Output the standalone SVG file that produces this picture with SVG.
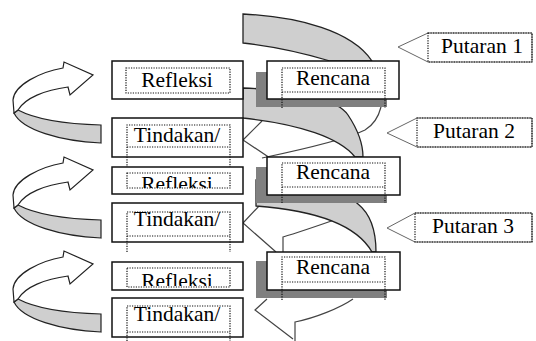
<svg xmlns="http://www.w3.org/2000/svg" width="536" height="341" viewBox="0 0 536 341">
<defs>
<style>
.box{fill:#fff;stroke:#111;stroke-width:1.5}
.shadow{fill:#808080}
.dot{fill:none;stroke:#111;stroke-width:1.2;stroke-dasharray:1.2 1.3}
.t{font-family:"Liberation Serif","Times New Roman",serif;font-size:21.5px;fill:#000;text-anchor:middle}
.band{fill:#cfcfcf;stroke:#222;stroke-width:1.3}
.ln{fill:none;stroke:#444;stroke-width:1.2}
.arrw{fill:#fff;stroke:#222;stroke-width:1.2}
.arrg{fill:#cfcfcf;stroke:#222;stroke-width:1.2}
.call{fill:#fff;stroke:#666;stroke-width:1}
</style>
<clipPath id="c2"><rect x="127" y="170" width="103" height="18"/></clipPath>
<clipPath id="c3"><rect x="127" y="265" width="103" height="21"/></clipPath>
<g id="uarrow">
<path class="arrg" d="M18,110 C35,119 65,124 101,125 L101,143 C60,141 22,130 14,113 Z"/>
<path class="arrw" d="M14,113 L13,100 C14,85 40,72 63,68 L64,62 L93,75 L70,95 L68,87 C45,90 25,98 18,110 Z"/>
</g>
</defs>
<rect width="536" height="341" fill="#fff"/>

<g id="connectors">
<path class="band" d="M243,14 C300,17 352,31 372,61 L330,61 C300,52 270,46 243,43 Z"/>
<path class="ln" d="M262,158 C300,150 345,140 365,130 C375,124 379,115 381,107"/>
<path class="ln" d="M262,121 L243,140 L270,158"/>
<path class="band" d="M243,88 C300,90 338,100 348,115 C358,130 363,145 363,157 L355,157 C340,138 300,124 243,118 Z"/>
<path class="ln" d="M283,252 L283,237 C300,232 320,225 340,218"/>
<path class="ln" d="M260,205 L243,223 L276,252"/>
<path class="band" d="M256,180 C320,185 350,195 358,204 C368,212 376,225 376,252 L372,252 C355,222 310,210 256,206 Z"/>
<path class="ln" d="M295,341 L295,322 C315,318 340,308 353,299"/>
<path class="ln" d="M267,299 L255,310 L293,339"/>
<use href="#uarrow"/>
<use href="#uarrow" transform="translate(0,95)"/>
<use href="#uarrow" transform="translate(0,189)"/>
</g>

<g id="refleksi1">
<rect class="box" x="112" y="61" width="131" height="38"/>
<rect class="dot" x="126" y="68" width="104" height="25"/>
<text class="t" x="177" y="87">Refleksi</text>
</g>
<g id="tindakan1">
<rect class="box" x="112" y="118" width="131" height="39"/>
<path class="dot" d="M127,173 L127,125 L230,125 L230,173 M127,147 L230,147"/>
<text class="t" x="177" y="142">Tindakan/</text>
</g>
<g id="refleksi2">
<rect class="box" x="112" y="167" width="131" height="27"/>
<rect class="dot" x="127" y="173" width="103" height="15"/>
<text class="t" x="177" y="191" clip-path="url(#c2)">Refleksi</text>
</g>
<g id="tindakan2">
<rect class="box" x="112" y="203" width="131" height="39"/>
<path class="dot" d="M127,252 L127,212 L230,212 L230,252 M127,236 L230,236"/>
<text class="t" x="177" y="226">Tindakan/</text>
</g>
<g id="refleksi3">
<rect class="box" x="112" y="262" width="131" height="28"/>
<rect class="dot" x="127" y="268" width="103" height="19"/>
<text class="t" x="177" y="288" clip-path="url(#c3)">Refleksi</text>
</g>
<g id="tindakan3">
<rect class="box" x="112" y="298" width="131" height="39"/>
<path class="dot" d="M127,341 L127,306 L230,306 L230,341 M127,332 L230,332"/>
<text class="t" x="177" y="321">Tindakan/</text>
</g>

<g id="rencana1">
<rect class="shadow" x="256" y="72" width="131" height="35"/>
<rect class="box" x="267" y="61" width="132" height="38"/>
<path class="dot" d="M282,108 L282,68 L385,68 L385,108 M282,92 L385,92"/>
<text class="t" x="333" y="85">Rencana</text>
</g>
<g id="rencana2">
<rect class="shadow" x="256" y="167" width="131" height="36"/>
<rect class="box" x="267" y="157" width="133" height="38"/>
<path class="dot" d="M282,203 L282,163 L385,163 L385,203 M282,187 L385,187"/>
<text class="t" x="333" y="179">Rencana</text>
</g>
<g id="rencana3">
<rect class="shadow" x="256" y="261" width="131" height="37"/>
<rect class="box" x="267" y="252" width="133" height="38"/>
<path class="dot" d="M282,300 L282,257 L385,257 L385,300 M282,282 L385,282"/>
<text class="t" x="333" y="274">Rencana</text>
</g>

<g id="putaran1">
<path class="call" d="M398,47 L428,33 L532,33 L532,62 L428,62 Z"/>
<rect class="dot" x="428" y="33" width="104" height="29"/>
<text class="t" x="482" y="53">Putaran 1</text>
</g>
<g id="putaran2">
<path class="call" d="M387,133 L417,118 L532,118 L532,147 L417,147 Z"/>
<rect class="dot" x="417" y="118" width="115" height="29"/>
<text class="t" x="474" y="138">Putaran 2</text>
</g>
<g id="putaran3">
<path class="call" d="M387,228 L415,213 L532,213 L532,242 L415,242 Z"/>
<rect class="dot" x="415" y="213" width="117" height="29"/>
<text class="t" x="473" y="233">Putaran 3</text>
</g>
</svg>
